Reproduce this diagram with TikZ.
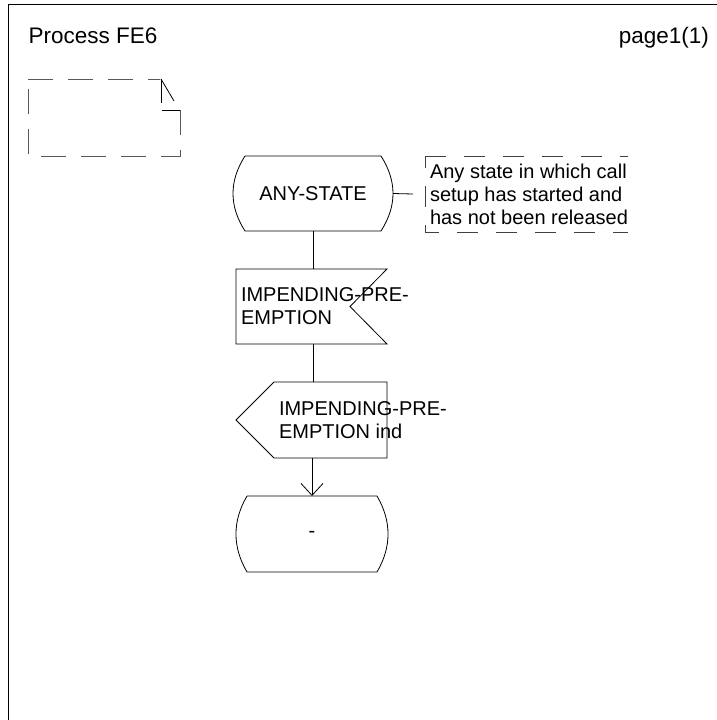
\documentclass[tikz,border=0pt]{standalone}
\usepackage{fontspec}
\setmainfont{Liberation Sans}
\usetikzlibrary{arrows.meta}

% SDL state symbol: straight top and bottom, bulging sides
\newcommand\sdlstateoutline[2]{% #1 node name, #2 control offset of the bulge
  \draw (#1.north west) -- (#1.north east)
    .. controls +(#2,25) and +(#2,-25) .. (#1.south east)
    -- (#1.south west)
    .. controls +(-#2,-25) and +(-#2,25) .. (#1.north west);
}

\begin{document}
\begin{tikzpicture}[x=1pt,y=-1pt,
  line width=0.8pt,
  every node/.style={inner sep=0pt, outer sep=0pt},
  lbl/.style={font=\fontsize{20}{23}\selectfont, align=left},
  head/.style={font=\fontsize{22.5}{26}\selectfont},
  body/.style={rectangle, draw=none},
  cmtdash/.style={draw=black!75, dash pattern=on 21pt off 18pt},
  txtdash/.style={draw=black!65, dash pattern=on 25pt off 15pt},
  barb/.style={-{Straight Barb[length=12pt,width=22pt]}}
]
\useasboundingbox (0,0) rectangle (717,720);

% page frame
\draw (8,720) -- (8,4) -- (717.5,4);

% heading
\node[head, anchor=base west] (title) at (28.5,43.5) {Process FE6};
\node[head, anchor=base east] (page) at (709,43.5) {page1(1)};

% text symbol in the upper left corner
\draw[txtdash] (28,79) -- (160,79);
\draw[txtdash] (180,110) -- (180,156) -- (28,156) -- (28,79);
\draw (161,79) -- (161,103);
\draw (161,79) -- (174,101);
\draw (162,110) -- (180,110);

% start state
\node[body, lbl, minimum width=136pt, minimum height=75pt] (st1) at (313,193.5) {ANY-STATE};
\sdlstateoutline{st1}{16}

% comment attached to the start state
\node[body, minimum width=203pt, minimum height=76pt] (cbox) at (526.5,194) {};
\draw[cmtdash] (cbox.north west) -- (cbox.north east);
\draw[cmtdash, dash phase=9pt] (cbox.north west) -- (cbox.south west) -- (cbox.south east);
\node[lbl, anchor=west] (ctext) at ([xshift=5pt]cbox.west)
  {Any state in which call\\setup has started and\\has not been released};
\draw ([xshift=12pt]st1.east) -- ([xshift=-12pt]cbox.west);

% signal input
\node[body, minimum width=151pt, minimum height=75pt] (in1) at (311.5,306.5) {};
\draw (in1.north west) -- (in1.north east) -- ([xshift=-37pt]in1.east)
  -- (in1.south east) -- (in1.south west) -- cycle;
\node[lbl, anchor=west] (intext) at ([xshift=5pt]in1.west) {IMPENDING-PRE-\\EMPTION};

% signal output
\node[body, minimum width=113pt, minimum height=76pt] (out1) at (330.5,420) {};
\draw (out1.north west) -- (out1.north east) -- (out1.south east)
  -- (out1.south west) -- ([xshift=-38pt]out1.west) -- cycle;
\node[lbl, anchor=west] (outtext) at ([xshift=5pt]out1.west) {IMPENDING-PRE-\\EMPTION ind};

% next state
\node[body, lbl, minimum width=130pt, minimum height=76pt] (st2) at (312,534) {-};
\sdlstateoutline{st2}{14.7}

% flow lines
\draw (st1.south) -- (st1.south |- in1.north);
\draw (st1.south |- in1.south) -- (st1.south |- out1.north);
\draw[barb] (st2.north |- out1.south) -- (st2.north);
\end{tikzpicture}
\end{document}
